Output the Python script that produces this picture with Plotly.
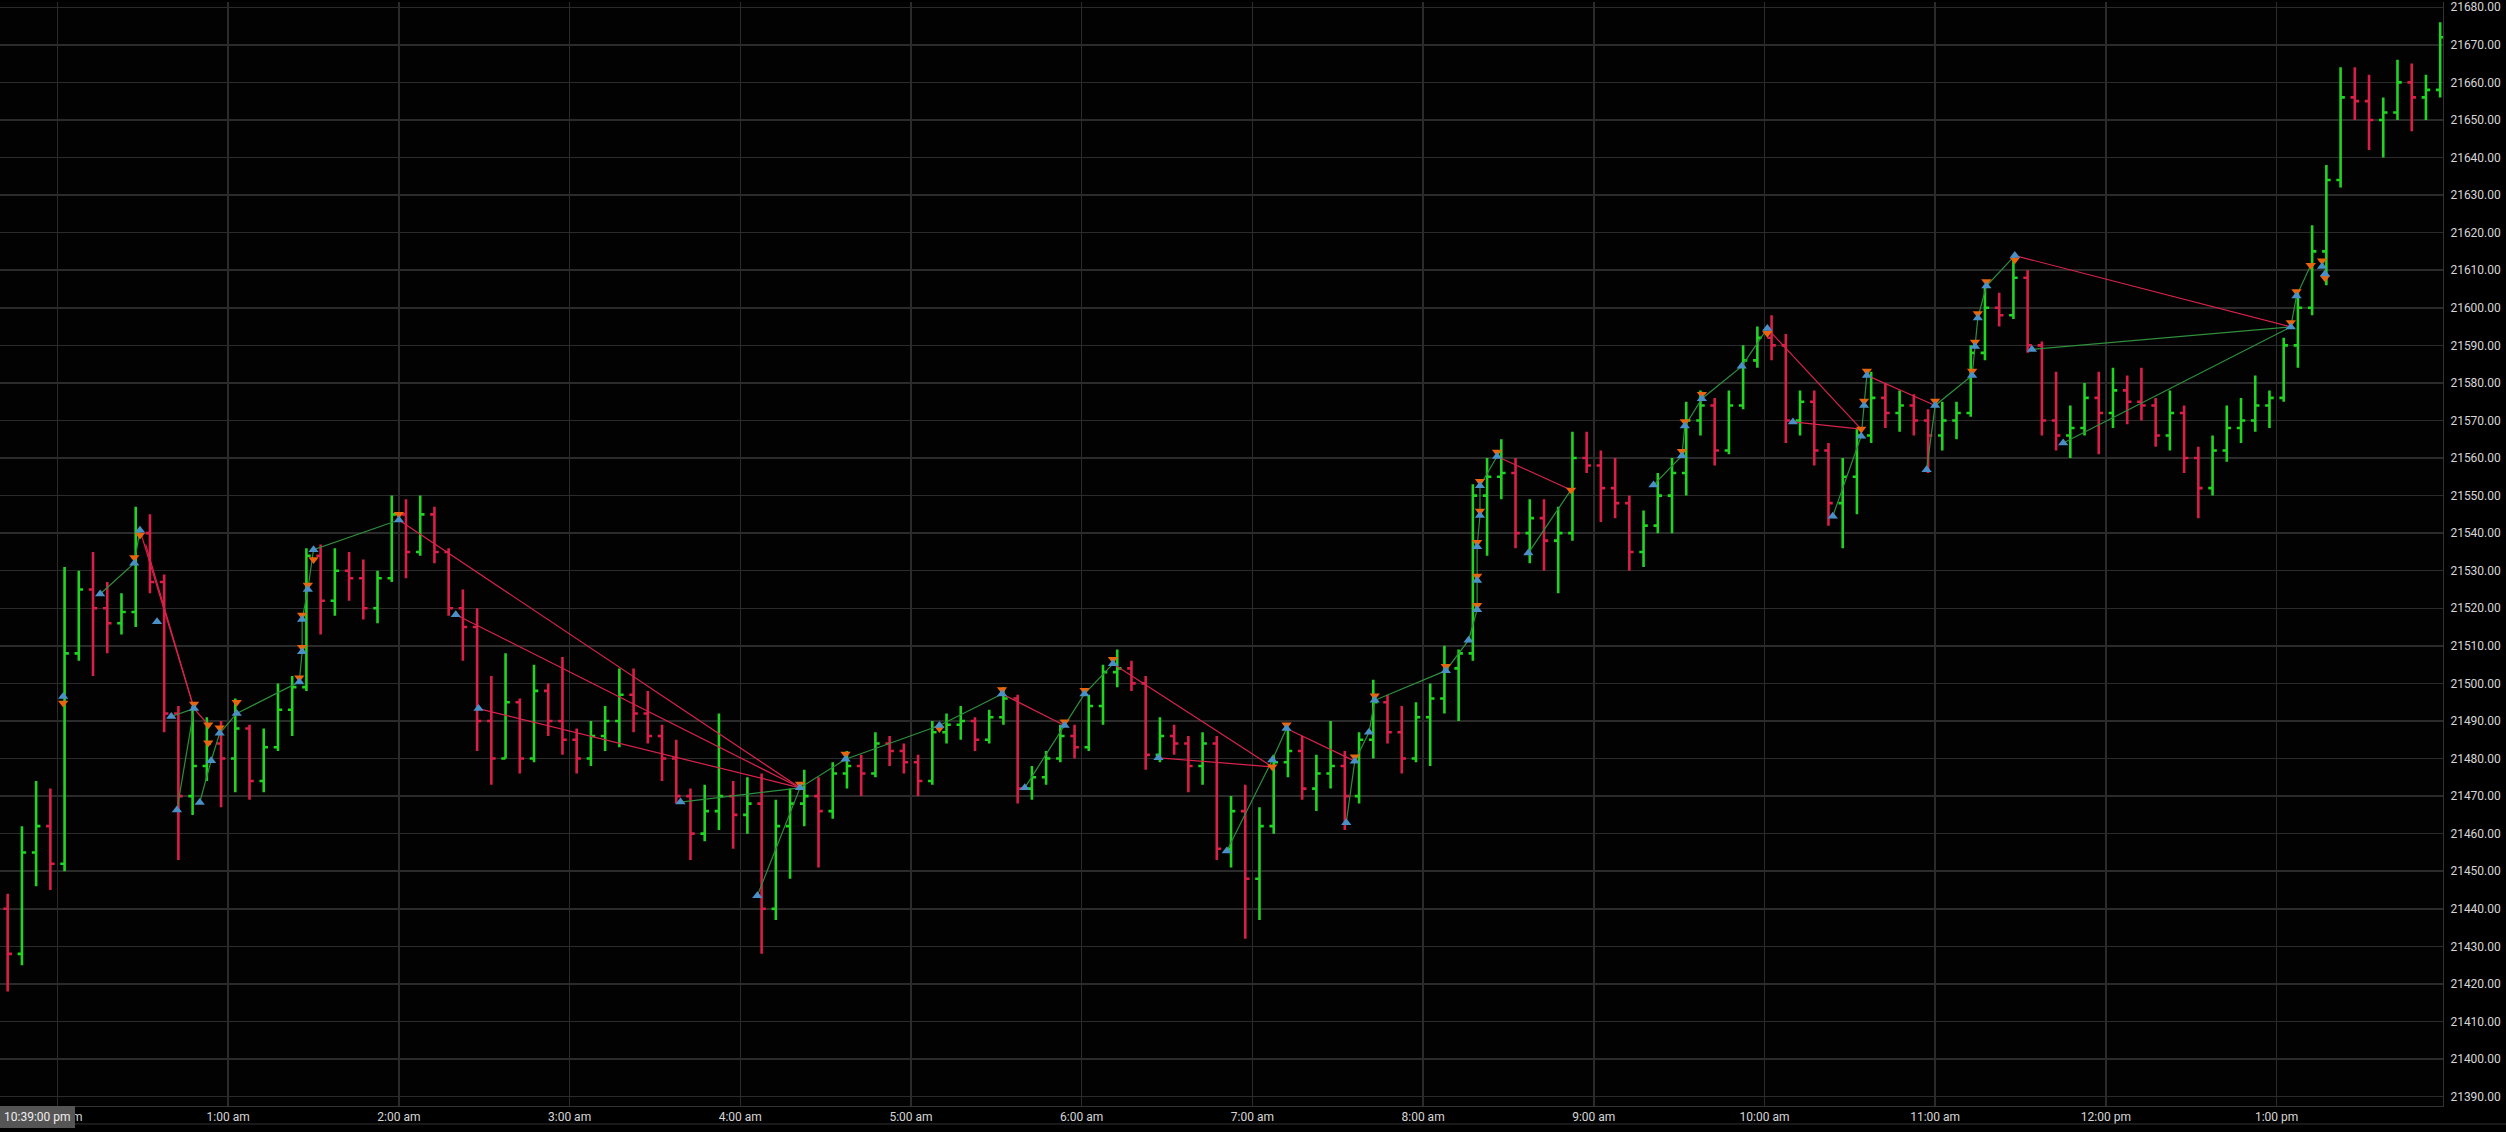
import plotly.graph_objects as go
from datetime import datetime, timedelta

# ---------------- data ----------------
SESSION_DAY = datetime(2024, 12, 5)       # evening of the session start
BAR_START = "23:40"                        # first 5-minute bar
BAR_MINUTES = 5

# one row per hour (first row 23:40-23:55, then 12 bars per hour)
bar_open = [
    21440, 21428, 21455, 21462,
    21452, 21508, 21525, 21520, 21516, 21519, 21540, 21527, 21492, 21470, 21478, 21484,
    21480, 21488, 21474, 21483, 21493, 21499, 21534, 21522, 21530, 21528, 21520, 21528,
    21545, 21535, 21545, 21535, 21520, 21515, 21490, 21480, 21495, 21480, 21498, 21490,
    21485, 21480, 21486, 21490, 21497, 21492, 21486, 21480, 21470, 21460, 21466, 21470,
    21465, 21468, 21440, 21462, 21468, 21470, 21466, 21476, 21478, 21476, 21484, 21482,
    21479, 21474, 21487, 21489, 21490, 21485, 21491, 21496, 21472, 21475, 21480, 21486,
    21483, 21494, 21503, 21504, 21500, 21481, 21486, 21484, 21478, 21484, 21456, 21466,
    21448, 21462, 21479, 21482, 21472, 21476, 21478, 21470, 21485, 21495, 21487, 21480,
    21491, 21496, 21504, 21508, 21550, 21555, 21556, 21540, 21544, 21538, 21540, 21560,
    21558, 21552, 21548, 21535, 21542, 21550, 21556, 21570, 21574, 21562, 21574, 21586,
    21592, 21590, 21570, 21575, 21562, 21548, 21555, 21566, 21576, 21572, 21574, 21570,
    21566, 21570, 21572, 21588, 21600, 21598, 21608, 21590, 21570, 21566, 21568, 21576,
    21572, 21578, 21575, 21574, 21566, 21572, 21560, 21552, 21562, 21568, 21570, 21574,
    21576, 21590, 21600, 21615, 21634, 21656, 21655, 21650, 21652, 21660, 21656, 21658,
]
bar_high = [
    21444, 21462, 21474, 21472,
    21531, 21530, 21535, 21527, 21524, 21547, 21545, 21529, 21494, 21494, 21491, 21490,
    21496, 21489, 21488, 21500, 21502, 21536, 21537, 21536, 21535, 21533, 21530, 21550,
    21549, 21550, 21547, 21536, 21525, 21520, 21502, 21508, 21496, 21505, 21500, 21507,
    21488, 21490, 21494, 21504, 21504, 21498, 21489, 21485, 21472, 21473, 21492, 21474,
    21475, 21476, 21469, 21472, 21477, 21475, 21479, 21482, 21481, 21487, 21486, 21484,
    21481, 21490, 21492, 21494, 21491, 21493, 21499, 21497, 21478, 21482, 21489, 21489,
    21497, 21505, 21509, 21506, 21502, 21491, 21489, 21486, 21487, 21486, 21470, 21473,
    21467, 21481, 21488, 21486, 21481, 21490, 21482, 21487, 21501, 21497, 21494, 21495,
    21500, 21510, 21509, 21553, 21560, 21565, 21560, 21549, 21549, 21547, 21567, 21567,
    21562, 21560, 21550, 21546, 21556, 21560, 21575, 21578, 21576, 21578, 21590, 21595,
    21598, 21593, 21578, 21578, 21564, 21560, 21568, 21583, 21580, 21578, 21577, 21573,
    21575, 21575, 21590, 21606, 21604, 21614, 21610, 21591, 21583, 21574, 21580, 21583,
    21584, 21582, 21584, 21576, 21578, 21574, 21563, 21566, 21574, 21576, 21582, 21578,
    21592, 21604, 21622, 21638, 21664, 21664, 21662, 21656, 21666, 21665, 21662, 21676,
]
bar_low = [
    21418, 21425, 21446, 21445,
    21450, 21506, 21502, 21508, 21513, 21515, 21524, 21487, 21453, 21465, 21474, 21467,
    21471, 21469, 21471, 21482, 21486, 21498, 21513, 21518, 21522, 21517, 21516, 21527,
    21528, 21534, 21532, 21518, 21506, 21482, 21473, 21480, 21476, 21479, 21486, 21481,
    21476, 21478, 21482, 21483, 21487, 21484, 21474, 21468, 21453, 21458, 21461, 21456,
    21460, 21428, 21437, 21448, 21462, 21451, 21464, 21472, 21470, 21475, 21478, 21476,
    21470, 21473, 21484, 21485, 21482, 21484, 21489, 21468, 21469, 21473, 21479, 21480,
    21482, 21489, 21499, 21498, 21477, 21479, 21481, 21471, 21473, 21453, 21451, 21432,
    21437, 21460, 21475, 21469, 21466, 21472, 21461, 21468, 21480, 21484, 21476, 21479,
    21478, 21492, 21490, 21506, 21534, 21549, 21536, 21532, 21530, 21524, 21538, 21556,
    21543, 21544, 21530, 21531, 21540, 21540, 21550, 21566, 21558, 21561, 21573, 21584,
    21586, 21564, 21566, 21558, 21542, 21536, 21545, 21564, 21568, 21567, 21566, 21556,
    21562, 21565, 21571, 21586, 21595, 21597, 21588, 21566, 21562, 21560, 21566, 21561,
    21568, 21569, 21570, 21563, 21562, 21556, 21544, 21550, 21559, 21564, 21567, 21568,
    21575, 21584, 21598, 21606, 21632, 21650, 21642, 21640, 21650, 21647, 21650, 21656,
]
bar_close = [
    21428, 21455, 21462, 21452,
    21508, 21525, 21520, 21516, 21519, 21540, 21527, 21492, 21470, 21478, 21484, 21480,
    21488, 21474, 21483, 21493, 21499, 21534, 21522, 21530, 21528, 21520, 21528, 21545,
    21535, 21545, 21535, 21520, 21515, 21490, 21480, 21495, 21480, 21498, 21490, 21485,
    21480, 21486, 21490, 21497, 21492, 21486, 21480, 21470, 21460, 21466, 21470, 21465,
    21468, 21440, 21462, 21468, 21470, 21466, 21476, 21478, 21476, 21484, 21482, 21479,
    21474, 21487, 21489, 21490, 21485, 21491, 21496, 21472, 21475, 21480, 21486, 21483,
    21494, 21503, 21504, 21500, 21481, 21486, 21484, 21478, 21484, 21456, 21466, 21448,
    21462, 21479, 21482, 21472, 21476, 21478, 21470, 21485, 21495, 21487, 21480, 21491,
    21496, 21504, 21508, 21550, 21555, 21556, 21540, 21544, 21538, 21540, 21560, 21558,
    21552, 21548, 21535, 21542, 21550, 21556, 21570, 21574, 21562, 21574, 21586, 21592,
    21590, 21570, 21575, 21562, 21548, 21555, 21566, 21576, 21572, 21574, 21570, 21566,
    21570, 21572, 21588, 21600, 21598, 21608, 21590, 21570, 21566, 21568, 21576, 21572,
    21578, 21575, 21574, 21566, 21572, 21560, 21552, 21562, 21568, 21570, 21574, 21576,
    21590, 21600, 21615, 21634, 21656, 21655, 21650, 21652, 21660, 21656, 21658, 21672,
]

# pivot markers
up_times = ["00:02", "00:15", "00:27", "00:29", "00:35", "00:40", "00:42", "00:48", "00:50",
            "00:54", "00:57", "01:03", "01:25", "01:26", "01:26", "01:28", "01:30", "02:00",
            "02:20", "02:28", "03:39", "04:06", "04:21", "04:37", "05:10", "05:32", "05:40",
            "05:54", "06:01", "06:11", "06:27", "06:51", "07:07", "07:12", "07:33", "07:36",
            "07:41", "07:43", "08:08", "08:16", "08:19", "08:19", "08:19", "08:20", "08:20",
            "08:26", "08:37", "09:21", "09:31", "09:32", "09:38", "09:52", "10:01", "10:10",
            "10:24", "10:34", "10:35", "10:36", "10:57", "11:00", "11:13", "11:14", "11:15",
            "11:18", "11:28", "11:34", "11:45", "13:05", "13:07", "13:16", "13:17"]
up_prices = [21496.5, 21523.8, 21532.0, 21540.8, 21516.4, 21491.2, 21466.3, 21493.3, 21468.3,
             21479.4, 21486.7, 21492.0, 21500.4, 21508.4, 21517.0, 21525.0, 21535.6, 21543.5,
             21518.3, 21493.3, 21468.4, 21443.5, 21472.2, 21479.8, 21488.8, 21497.2, 21472.2,
             21488.8, 21497.2, 21505.2, 21480.2, 21455.4, 21479.6, 21488.0, 21462.9, 21479.3,
             21487.0, 21495.5, 21503.4, 21511.5, 21519.6, 21527.4, 21536.4, 21544.7, 21552.6,
             21560.4, 21534.7, 21552.8, 21560.6, 21568.5, 21575.8, 21584.4, 21594.5, 21569.6,
             21544.5, 21565.8, 21574.0, 21582.0, 21556.9, 21574.0, 21582.0, 21589.7, 21597.3,
             21605.8, 21613.9, 21588.9, 21564.0, 21594.9, 21603.1, 21611.0, 21609.0]
down_times = ["00:02", "00:27", "00:29", "00:48", "00:53", "00:53", "00:57", "01:03", "01:25",
              "01:26", "01:26", "01:28", "01:30", "02:00", "04:21", "04:37", "05:10", "05:32",
              "05:54", "06:01", "06:11", "07:07", "07:12", "07:36", "07:43", "08:08", "08:19",
              "08:19", "08:19", "08:20", "08:20", "08:26", "08:52", "09:31", "09:32", "09:38",
              "10:01", "10:34", "10:35", "10:36", "11:00", "11:13", "11:14", "11:15", "11:18",
              "11:28", "13:05", "13:07", "13:12", "13:16", "13:17"]
down_prices = [21494.8, 21533.5, 21539.5, 21494.5, 21489.0, 21484.2, 21488.2, 21495.0, 21501.5,
               21509.6, 21518.2, 21526.2, 21533.0, 21545.0, 21473.2, 21481.2, 21488.0, 21498.4,
               21489.8, 21498.2, 21506.4, 21477.8, 21489.0, 21480.5, 21496.7, 21504.6, 21520.8,
               21528.6, 21537.6, 21545.9, 21553.8, 21561.6, 21551.5, 21561.8, 21569.7, 21577.0,
               21593.2, 21567.7, 21575.2, 21583.2, 21575.2, 21583.2, 21590.9, 21598.5, 21607.0,
               21612.8, 21596.1, 21604.3, 21611.3, 21612.5, 21608.0]

# connecting legs (each path: list of (time, price))
green_paths = [
    [("00:15", 21523.8), ("00:27", 21532.0), ("00:29", 21540.8)],
    [("00:40", 21491.2), ("00:48", 21493.3)],
    [("00:42", 21466.3), ("00:48", 21493.3)],
    [("00:50", 21468.3), ("00:54", 21479.4), ("00:57", 21486.7), ("01:03", 21492.0),
     ("01:25", 21500.4), ("01:26", 21508.4), ("01:26", 21517.0), ("01:28", 21525.0),
     ("01:30", 21535.6), ("02:00", 21543.5)],
    [("03:39", 21468.4), ("04:21", 21472.2)],
    [("04:06", 21443.5), ("04:21", 21472.2), ("04:37", 21479.8), ("05:10", 21488.8),
     ("05:32", 21497.2)],
    [("05:40", 21472.2), ("05:54", 21488.8), ("06:01", 21497.2), ("06:11", 21505.2)],
    [("06:51", 21455.4), ("07:07", 21479.6), ("07:12", 21488.0)],
    [("07:33", 21462.9), ("07:36", 21479.3), ("07:41", 21487.0), ("07:43", 21495.5),
     ("08:08", 21503.4), ("08:16", 21511.5), ("08:19", 21519.6), ("08:19", 21536.4),
     ("08:20", 21544.7), ("08:20", 21552.6), ("08:26", 21560.4)],
    [("08:37", 21534.7), ("08:52", 21551.5)],
    [("09:21", 21552.8), ("09:31", 21560.6), ("09:32", 21568.5), ("09:38", 21575.8),
     ("09:52", 21584.4), ("10:01", 21594.5)],
    [("10:24", 21544.5), ("10:34", 21565.8), ("10:35", 21574.0), ("10:36", 21582.0)],
    [("10:57", 21556.9), ("11:00", 21574.0), ("11:13", 21582.0), ("11:14", 21589.7),
     ("11:15", 21597.3), ("11:18", 21605.8), ("11:28", 21613.9)],
    [("11:34", 21588.9), ("13:05", 21594.9)],
    [("11:45", 21564.0), ("13:05", 21594.9), ("13:07", 21603.1), ("13:12", 21611.3)],
]
red_paths = [
    [("00:29", 21540.8), ("00:48", 21493.3)],
    [("00:31", 21537.0), ("00:48", 21493.3)],
    [("00:48", 21493.3), ("00:53", 21489.0)],
    [("02:00", 21543.5), ("04:21", 21472.2)],
    [("02:20", 21518.3), ("04:21", 21472.2)],
    [("02:28", 21493.3), ("04:21", 21472.2)],
    [("05:32", 21497.2), ("05:54", 21488.8)],
    [("06:11", 21505.2), ("07:07", 21477.8)],
    [("06:27", 21480.2), ("07:07", 21477.8)],
    [("07:12", 21488.0), ("07:36", 21479.3)],
    [("08:26", 21560.4), ("08:52", 21551.5)],
    [("10:01", 21594.5), ("10:34", 21567.7)],
    [("10:10", 21569.6), ("10:34", 21567.7)],
    [("10:36", 21582.0), ("11:00", 21574.0)],
    [("11:28", 21613.9), ("13:05", 21594.9)],
]

hour_ticks = ["00:00", "01:00", "02:00", "03:00", "04:00", "05:00", "06:00", "07:00",
              "08:00", "09:00", "10:00", "11:00", "12:00", "13:00"]
hour_labels = ["12:00 am", "1:00 am", "2:00 am", "3:00 am", "4:00 am", "5:00 am", "6:00 am",
               "7:00 am", "8:00 am", "9:00 am", "10:00 am", "11:00 am", "12:00 pm", "1:00 pm"]
view_start, view_end = "23:39.8", "13:58.5"
y_range = [21387.5, 21681.4]
cursor_label = "10:39:00 pm"


# ---------------- helpers ----------------
def ts(hm):
    h, m = hm.split(":")
    h, m = int(h), float(m)
    base = SESSION_DAY if h >= 18 else SESSION_DAY + timedelta(days=1)
    return base + timedelta(hours=h, minutes=m)


t0 = ts(BAR_START)
bar_x = [t0 + timedelta(minutes=BAR_MINUTES * i + BAR_MINUTES / 2) for i in range(len(bar_open))]


def path_xy(paths):
    xs, ys = [], []
    for p in paths:
        for t, v in p:
            xs.append(ts(t))
            ys.append(v)
        xs.append(None)
        ys.append(None)
    return xs, ys


BG = "#000000"
GRID = "#2b2b2b"
TXT = "#d6d6d6"
FONT = "Roboto"

fig = go.Figure()
fig.add_trace(go.Ohlc(
    x=bar_x, open=bar_open, high=bar_high, low=bar_low, close=bar_close,
    increasing=dict(line=dict(color="#22d322", width=2.6)),
    decreasing=dict(line=dict(color="#d81f48", width=2.6)),
    tickwidth=0.3, hoverinfo="skip", showlegend=False,
))
gx, gy = path_xy(green_paths)
fig.add_trace(go.Scatter(x=gx, y=gy, mode="lines", line=dict(color="#2f8f3c", width=1.2),
                         hoverinfo="skip", showlegend=False))
rx, ry = path_xy(red_paths)
fig.add_trace(go.Scatter(x=rx, y=ry, mode="lines", line=dict(color="#d9234c", width=1.2),
                         hoverinfo="skip", showlegend=False))
fig.add_trace(go.Scatter(x=[ts(t) for t in down_times], y=down_prices, mode="markers",
                         marker=dict(symbol="triangle-down", size=9, color="#e8650f"),
                         hoverinfo="skip", showlegend=False))
fig.add_trace(go.Scatter(x=[ts(t) for t in up_times], y=up_prices, mode="markers",
                         marker=dict(symbol="triangle-up", size=9, color="#4a8fc6"),
                         hoverinfo="skip", showlegend=False))

fig.update_layout(
    width=2506, height=1132,
    margin=dict(l=0, r=63, t=0, b=26),
    paper_bgcolor=BG, plot_bgcolor="#020202",
    font=dict(family=FONT, color=TXT, size=12),
    xaxis=dict(
        type="date", range=[ts(view_start), ts(view_end)],
        tickvals=[ts(t) for t in hour_ticks], ticktext=hour_labels,
        showgrid=True, gridcolor=GRID, gridwidth=1.5,
        showline=True, linecolor="#333333", linewidth=1,
        zeroline=False, ticks="", rangeslider=dict(visible=False),
        tickfont=dict(family=FONT, size=12, color=TXT), fixedrange=True,
    ),
    yaxis=dict(
        side="right", range=y_range, dtick=10, tick0=21390, tickformat=".2f",
        showgrid=True, gridcolor=GRID, gridwidth=1.5,
        showline=True, linecolor="#333333", linewidth=1, mirror=False,
        zeroline=False, ticks="outside", ticklen=4, tickcolor=BG,
        ticklabeloverflow="allow",
        tickfont=dict(family=FONT, size=12, color=TXT), fixedrange=True,
    ),
    annotations=[dict(
        text=cursor_label, xref="paper", yref="paper", x=0, y=0,
        xanchor="left", yanchor="top", showarrow=False,
        bgcolor="#555555", bordercolor="#555555", borderpad=3,
        font=dict(family=FONT, size=12, color="#eeeeee"),
    )],
    shapes=[
        dict(type="line", xref="paper", yref="paper", x0=0, x1=1.0258, y0=-0.0163, y1=-0.0163,
             line=dict(color="#333333", width=1)),
    ],
)

fig.write_html("out.html", config={"displayModeBar": False, "staticPlot": True},
               post_script="document.body.style.margin='0px';"
                           "document.body.style.overflow='hidden';")
